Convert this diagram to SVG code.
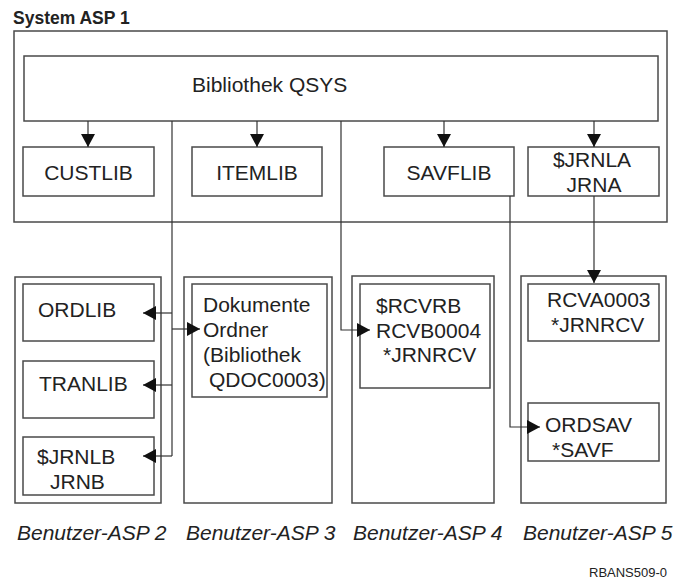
<svg xmlns="http://www.w3.org/2000/svg" width="674" height="586" viewBox="0 0 674 586">
<defs>
<style>
.box{fill:#fff;stroke:#4a4a4a;stroke-width:1.5}
.t{font-family:"Liberation Sans",Arial,sans-serif;font-size:21px;fill:#222}
.c{text-anchor:middle}
.lab{font-family:"Liberation Sans",Arial,sans-serif;font-size:21px;font-style:italic;fill:#222}
.ttl{font-family:"Liberation Sans",Arial,sans-serif;font-size:17.5px;font-weight:bold;fill:#222}
.id{font-family:"Liberation Sans",Arial,sans-serif;font-size:13px;fill:#222}
.ln{fill:none;stroke:#333;stroke-width:1.2}
</style>
<marker id="ah" markerUnits="userSpaceOnUse" markerWidth="14" markerHeight="14" refX="13" refY="7" orient="auto">
<path d="M0,0 L13,7 L0,14 z" fill="#111"/>
</marker>
</defs>
<rect width="674" height="586" fill="#fff"/>

<g id="asp1">
<text class="ttl" x="13" y="24">System ASP 1</text>
<rect class="box" x="14" y="31" width="653" height="191"/>
</g>
<g id="qsys">
<rect class="box" x="24" y="56" width="634" height="65"/>
<text class="t" x="192" y="92">Bibliothek QSYS</text>
</g>
<g id="custlib">
<rect class="box" x="23" y="147" width="131" height="49"/>
<text class="t c" x="88.5" y="180">CUSTLIB</text>
</g>
<g id="itemlib">
<rect class="box" x="192" y="147" width="130" height="49"/>
<text class="t c" x="257" y="180">ITEMLIB</text>
</g>
<g id="savflib">
<rect class="box" x="384" y="147" width="130" height="49"/>
<text class="t c" x="449" y="180">SAVFLIB</text>
</g>
<g id="jrnla">
<rect class="box" x="528" y="147" width="131" height="49"/>
<text class="t c" x="592" y="167">$JRNLA</text>
<text class="t c" x="594" y="192">JRNA</text>
</g>

<g id="asp2">
<rect class="box" x="15" y="277" width="146" height="226"/>
<text class="lab" x="17" y="540">Benutzer-ASP 2</text>
</g>
<g id="ordlib">
<rect class="box" x="23" y="284" width="131" height="57"/>
<text class="t" x="38" y="317">ORDLIB</text>
</g>
<g id="tranlib">
<rect class="box" x="23" y="361" width="131" height="57"/>
<text class="t" x="39" y="391">TRANLIB</text>
</g>
<g id="jrnlb">
<rect class="box" x="23" y="437" width="131" height="58"/>
<text class="t" x="37" y="464">$JRNLB</text>
<text class="t" x="50" y="489">JRNB</text>
</g>

<g id="asp3">
<rect class="box" x="184" y="277" width="148" height="226"/>
<text class="lab" x="186" y="540">Benutzer-ASP 3</text>
</g>
<g id="dokumente">
<rect class="box" x="192" y="284" width="135" height="113"/>
<text class="t" x="203" y="312">Dokumente</text>
<text class="t" x="203" y="337">Ordner</text>
<text class="t" x="203" y="362">(Bibliothek</text>
<text class="t" x="209" y="387">QDOC0003)</text>
</g>

<g id="asp4">
<rect class="box" x="352" y="276" width="142" height="227"/>
<text class="lab" x="353" y="540">Benutzer-ASP 4</text>
</g>
<g id="rcvrb">
<rect class="box" x="360" y="284" width="130" height="104"/>
<text class="t" x="376" y="313">$RCVRB</text>
<text class="t" x="376" y="338">RCVB0004</text>
<text class="t" x="383" y="362">*JRNRCV</text>
</g>

<g id="asp5">
<rect class="box" x="521" y="276" width="145" height="227"/>
<text class="lab" x="523" y="540">Benutzer-ASP 5</text>
</g>
<g id="rcva">
<rect class="box" x="528" y="284" width="131" height="57"/>
<text class="t" x="547" y="307">RCVA0003</text>
<text class="t" x="551" y="332">*JRNRCV</text>
</g>
<g id="ordsav">
<rect class="box" x="528" y="403" width="131" height="58"/>
<text class="t" x="545" y="432">ORDSAV</text>
<text class="t" x="552" y="457">*SAVF</text>
</g>

<g id="connectors">
<path class="ln" d="M88,121 V147" marker-end="url(#ah)"/>
<path class="ln" d="M257,121 V147" marker-end="url(#ah)"/>
<path class="ln" d="M444,121 V147" marker-end="url(#ah)"/>
<path class="ln" d="M594,121 V147" marker-end="url(#ah)"/>
<path class="ln" d="M172,121 V456"/>
<path class="ln" d="M172,313 H143" marker-end="url(#ah)"/>
<path class="ln" d="M172,385 H143" marker-end="url(#ah)"/>
<path class="ln" d="M172,456 H143" marker-end="url(#ah)"/>
<path class="ln" d="M172,329 H200" marker-end="url(#ah)"/>
<path class="ln" d="M341,121 V330 H370" marker-end="url(#ah)"/>
<path class="ln" d="M510,196 V427 H540" marker-end="url(#ah)"/>
<path class="ln" d="M594,196 V283" marker-end="url(#ah)"/>
</g>

<text class="id" x="589" y="577">RBANS509-0</text>
</svg>
